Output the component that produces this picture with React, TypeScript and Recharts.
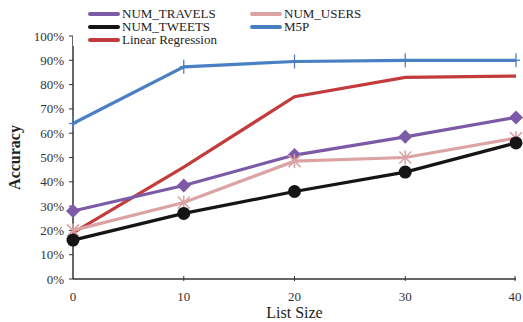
import { Line, LineChart, XAxis, YAxis } from "recharts";

const listSizes = [0, 10, 20, 30, 40];
const numTravels = [28, 38.5, 51, 58.5, 66.5];
const numUsers = [20, 31.5, 48.5, 50, 58];
const numTweets = [16, 27, 36, 44, 56];
const m5p = [64, 87.3, 89.5, 90, 90];
const linearRegression = [19, 46, 75, 83, 83.5];
const yTicks = [0, 10, 20, 30, 40, 50, 60, 70, 80, 90, 100];

const data = listSizes.map((x, i) => ({
  x,
  travels: numTravels[i],
  users: numUsers[i],
  tweets: numTweets[i],
  m5p: m5p[i],
  lr: linearRegression[i],
}));

const FONT = "'Liberation Serif', serif";
const C = {
  travels: "#7B5BA8",
  users: "#DBA3A3",
  tweets: "#151515",
  m5p: "#4A80C3",
  lr: "#C33B3C",
};

function Diamond({ cx, cy }: any) {
  return <path d={`M${cx},${cy - 7}L${cx + 7},${cy}L${cx},${cy + 7}L${cx - 7},${cy}Z`} fill={C.travels} />;
}

function Asterisk({ cx, cy }: any) {
  const s = 6;
  return (
    <g stroke={C.users} strokeWidth={1.6}>
      <line x1={cx - s} y1={cy - s} x2={cx + s} y2={cy + s} />
      <line x1={cx - s} y1={cy + s} x2={cx + s} y2={cy - s} />
      <line x1={cx} y1={cy - s - 1} x2={cx} y2={cy + s + 1} />
    </g>
  );
}

function Circle({ cx, cy }: any) {
  return <circle cx={cx} cy={cy} r={6.5} fill={C.tweets} />;
}

function Plus({ cx, cy }: any) {
  return (
    <g stroke={C.m5p} strokeWidth={1.3}>
      <line x1={cx} y1={cy - 7} x2={cx} y2={cy + 7} />
      <line x1={cx - 4} y1={cy} x2={cx + 4} y2={cy} />
    </g>
  );
}

function XTick({ x, y, payload }: any) {
  return (
    <g>
      {payload.value !== 0 && <line x1={x} y1={y} x2={x} y2={y - 5} stroke="#333" strokeWidth={1} />}
      <text x={x} y={y + 20} textAnchor="middle" style={{ fontFamily: FONT }} fontSize={13} fill="#333">
        {payload.value}
      </text>
    </g>
  );
}

function YTick({ x, y, payload }: any) {
  return (
    <text x={x} y={y + 4.5} textAnchor="end" style={{ fontFamily: FONT }} fontSize={13} fill="#333">
      {`${payload.value}%`}
    </text>
  );
}

const legendItems = [
  { key: "travels", name: "NUM_TRAVELS", left: 88, top: 8 },
  { key: "users", name: "NUM_USERS", left: 250, top: 8 },
  { key: "tweets", name: "NUM_TWEETS", left: 88, top: 21 },
  { key: "m5p", name: "M5P", left: 250, top: 21 },
  { key: "lr", name: "Linear Regression", left: 88, top: 34 },
];

function ChartLegend() {
  return (
    <div style={{ position: "absolute", left: 0, top: 0, width: 523, height: 46, pointerEvents: "none" }}>
      <div style={{ position: "absolute", left: 72.5, top: 30, width: 148, height: 16, background: "#fff" }} />
      {legendItems.map((it) => (
        <div
          key={it.key}
          style={{
            position: "absolute",
            left: it.left,
            top: it.top,
            height: 12,
            display: "flex",
            alignItems: "center",
            fontFamily: FONT,
            fontSize: 13,
            lineHeight: "12px",
            color: "#222",
            whiteSpace: "nowrap",
          }}
        >
          <span
            style={{
              display: "inline-block",
              width: 32,
              height: 4,
              borderRadius: 2,
              background: (C as any)[it.key],
              marginRight: 2,
            }}
          />
          {it.name}
        </div>
      ))}
    </div>
  );
}

export default function App() {
  return (
    <div style={{ position: "fixed", left: 0, top: 0, width: 523, height: 322, background: "#fff" }}>
      <LineChart width={523} height={322} data={data} margin={{ top: 36, right: 7, bottom: 0, left: 0 }}>
        <XAxis
          dataKey="x"
          type="number"
          domain={[0, 40]}
          ticks={listSizes}
          tickLine={false}
          tickSize={0}
          tick={<XTick />}
          axisLine={{ stroke: "#333", strokeWidth: 1.5 }}
          height={43}
          label={{ value: "List Size", position: "insideBottom", offset: 4, fontFamily: FONT, fontSize: 16, fill: "#222" }}
        />
        <YAxis
          type="number"
          domain={[0, 100]}
          ticks={yTicks}
          interval={0}
          width={73}
          tick={<YTick />}
          tickLine={{ stroke: "#333" }}
          tickSize={4}
          tickMargin={5}
          axisLine={{ stroke: "#333", strokeWidth: 1.5 }}
          label={{
            value: "Accuracy",
            angle: -90,
            position: "insideLeft",
            offset: 14,
            fontFamily: FONT,
            fontSize: 16,
            fontWeight: "bold",
            fill: "#222",
            style: { textAnchor: "middle" },
          }}
        />
        <Line dataKey="m5p" stroke={C.m5p} strokeWidth={3.2} dot={<Plus />} isAnimationActive={false} />
        <Line dataKey="lr" stroke={C.lr} strokeWidth={3.2} dot={false} isAnimationActive={false} />
        <Line dataKey="travels" stroke={C.travels} strokeWidth={3.2} dot={<Diamond />} isAnimationActive={false} />
        <Line dataKey="users" stroke={C.users} strokeWidth={3.2} dot={<Asterisk />} isAnimationActive={false} />
        <Line dataKey="tweets" stroke={C.tweets} strokeWidth={3.2} dot={<Circle />} isAnimationActive={false} />
      </LineChart>
      <ChartLegend />
    </div>
  );
}
